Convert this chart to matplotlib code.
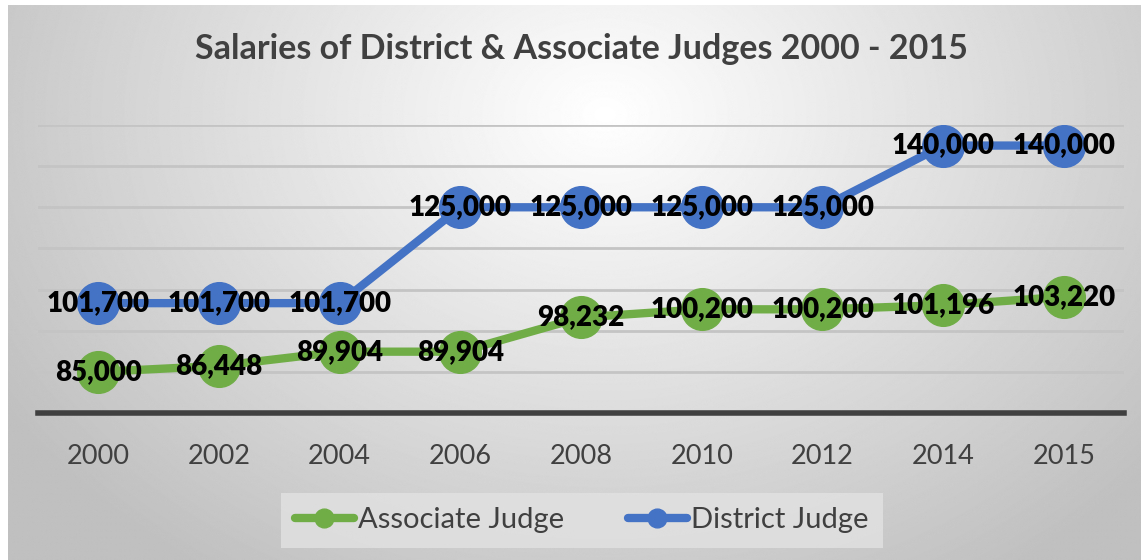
import numpy as np
import matplotlib
matplotlib.use("Agg")
import matplotlib.pyplot as plt

plt.rcParams['font.family'] = ['Lato', 'DejaVu Sans']

# data
years = ['2000', '2002', '2004', '2006', '2008', '2010', '2012', '2014', '2015']
associate = [85000, 86448, 89904, 89904, 98232, 100200, 100200, 101196, 103220]
district = [101700, 101700, 101700, 125000, 125000, 125000, 125000, 140000, 140000]

green = '#70AD47'
blue = '#4472C4'
grey_txt = '#404040'

fig = plt.figure(figsize=(11.41, 5.6), dpi=100)

# radial grey background like the Excel chart style
bg = fig.add_axes([0.007, 0, 0.993, 0.991])
h, w = 560, 1141
yy, xx = np.mgrid[0:h, 0:w]
r = np.sqrt(((xx - 600) / 720.0) ** 2 + ((yy - 110) / 560.0) ** 2)
shade = np.clip(1.0 - 0.25 * r, 0.75, 1.0)
bg.imshow(shade, cmap='gray', vmin=0, vmax=1, aspect='auto', interpolation='bilinear')
bg.axis('off')

ax = fig.add_axes([0.0333, 0.2625, 0.952, 0.5143])
ax.patch.set_alpha(0)
x = np.arange(len(years))

ax.plot(x, associate, color=green, lw=6, marker='o', ms=30, label='Associate Judge',
        solid_capstyle='round', zorder=3)
ax.plot(x, district, color=blue, lw=6, marker='o', ms=30, label='District Judge',
        solid_capstyle='round', zorder=3)

for xi, v in zip(x, associate):
    ax.text(xi, v, f'{v:,}', ha='center', va='center', fontsize=20, fontweight='heavy',
            color='black', zorder=5)
for xi, v in zip(x, district):
    ax.text(xi, v, f'{v:,}', ha='center', va='center', fontsize=20, fontweight='heavy',
            color='black', zorder=5)

ax.set_xlim(-0.5, len(years) - 0.5)
ax.set_ylim(75000, 145000)
ax.set_yticks(range(75000, 145001, 10000))
ax.yaxis.grid(True, color='#c4c4c4', lw=2)
ax.set_axisbelow(True)
ax.tick_params(axis='y', left=False, labelleft=False)
ax.set_xticks(x)
ax.set_xticklabels(years, fontsize=19.5, color=grey_txt)
ax.tick_params(axis='x', length=0, pad=22)
for s in ['top', 'right', 'left']:
    ax.spines[s].set_visible(False)
ax.spines['bottom'].set_color('#404040')
ax.spines['bottom'].set_linewidth(4)

fig.text(0.51, 0.912, 'Salaries of District & Associate Judges 2000 - 2015',
         ha='center', va='center', fontsize=24.5, fontweight='bold', color=grey_txt)

handles, labels = ax.get_legend_handles_labels()
leg = fig.legend(handles, labels, loc='center', bbox_to_anchor=(0.51, 0.071), ncol=2,
                 fontsize=21, frameon=True, fancybox=False, handlelength=2.0,
                 columnspacing=2.2, handletextpad=0.15, markerscale=0.45,
                 borderpad=0.5, borderaxespad=0)
leg.get_frame().set_facecolor('#e2e2e2')
leg.get_frame().set_edgecolor('none')
for t in leg.get_texts():
    t.set_color(grey_txt)

fig.savefig('out.png', dpi=100)
